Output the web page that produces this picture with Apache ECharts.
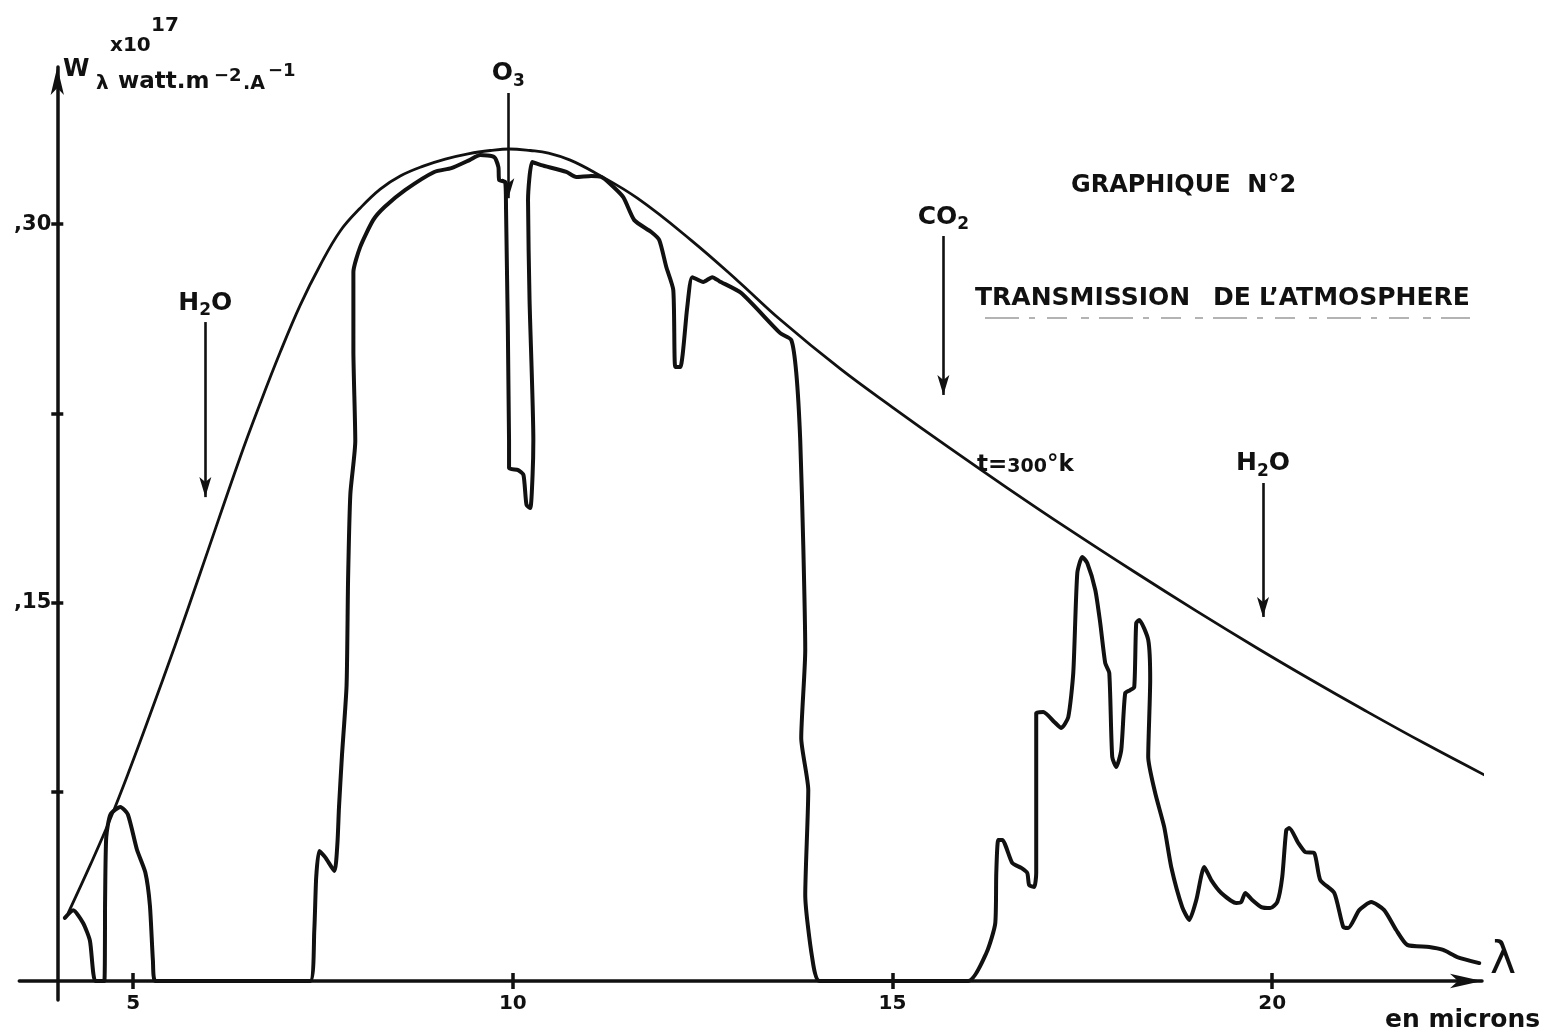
<!DOCTYPE html>
<html><head><meta charset="utf-8">
<script src="https://cdn.jsdelivr.net/npm/echarts@6/dist/echarts.min.js"></script>
<style>html,body{margin:0;padding:0;background:#fff}#chart{width:1548px;height:1036px}</style>
</head><body><div id="chart"></div>
<script>
// ---- data (wavelength in microns, W_lambda in 1e17 watt.m-2.A-1) ----
const planckX = [4.145,4.435,4.698,4.961,5.225,5.554,5.883,6.41,6.674,6.937,7.200,7.464,7.727,7.991,8.254,8.517,8.82,9.11,9.426,9.703,9.953,10.23,10.47,10.756,11.07,11.64,12.35,12.96,13.52,14.31,15.00,15.76,16.50,17.30,18.20,19.00,19.80,20.50,21.20,22.00,22.82];
const planckY = [0.027,0.046,0.0642,0.0844,0.1058,0.1332,0.1617,0.2077,0.2291,0.2493,0.2679,0.2838,0.2973,0.3064,0.3139,0.3191,0.3230,0.3258,0.3280,0.3292,0.3298,0.3292,0.3282,0.3254,0.3206,0.3103,0.2936,0.2776,0.2622,0.2427,0.2274,0.2111,0.1957,0.1795,0.1619,0.1467,0.1320,0.1196,0.1076,0.0943,0.0813];

const transX = [4.10,4.21,4.34,4.43,4.50,4.62,4.63,4.645,4.70,4.83,4.93,5.05,5.16,5.22,5.26,5.29,
  7.33,7.385,7.41,7.45,7.53,7.65,7.69,7.71,7.75,7.81,7.83,7.86,7.925,7.90,7.90,7.99,8.16,8.31,8.58,8.965,9.19,9.43,9.57,9.755,9.81,9.82,9.90,9.91,9.95,9.95,10.07,10.14,10.18,10.23,10.26,10.27,10.22,10.20,10.256,10.374,10.704,10.835,11.033,11.165,11.27,11.454,11.599,11.823,11.928,12.021,12.113,12.139,12.205,12.297,12.363,12.508,12.626,12.719,13.008,13.522,13.667,13.733,13.785,13.825,13.851,13.798,13.891,13.851,13.943,14.04,
  16.00,16.235,16.354,16.367,16.393,16.446,16.577,16.696,16.775,16.80,16.867,16.893,16.893,16.986,17.131,17.223,17.315,17.381,17.434,17.499,17.565,17.671,17.736,17.802,17.855,17.894,17.947,18.013,18.065,18.131,18.184,18.210,18.249,18.368,18.394,18.368,18.460,18.579,18.671,18.816,18.909,19.001,19.106,19.198,19.330,19.528,19.593,19.646,19.738,19.857,19.975,20.068,20.133,20.186,20.226,20.344,20.436,20.555,20.634,20.818,20.937,21.002,21.147,21.305,21.476,21.634,21.779,22.069,22.253,22.438,22.728];
const transY = [0.025,0.028,0.023,0.016,0,0,0.032,0.057,0.066,0.069,0.066,0.052,0.043,0.030,0.008,0,
  0,0.020,0.041,0.0515,0.049,0.0436,0.0547,0.0686,0.0896,0.117,0.159,0.193,0.214,0.250,0.281,0.291,0.3016,0.3068,0.3135,0.3207,0.3222,0.3254,0.3274,0.3266,0.3226,0.3175,0.3167,0.3068,0.2144,0.2033,0.2025,0.2006,0.1887,0.1875,0.2006,0.2144,0.270,0.3095,0.3246,0.3234,0.3207,0.3187,0.3191,0.3187,0.3163,0.3107,0.3016,0.2969,0.2937,0.2830,0.2739,0.2434,0.2434,0.2671,0.2790,0.2771,0.2790,0.2774,0.2727,0.2568,0.2541,0.2410,0.2144,0.1728,0.1312,0.0963,0.0757,0.0341,0.0091,0,
  0,0.011,0.023,0.0428,0.0559,0.0559,0.0468,0.0448,0.0428,0.038,0.0373,0.0428,0.1062,0.1066,0.1027,0.1003,0.1046,0.1221,0.1617,0.1681,0.1657,0.1550,0.1419,0.1260,0.1221,0.0888,0.0848,0.0916,0.1141,0.1153,0.1165,0.1419,0.1431,0.1352,0.1193,0.0888,0.0745,0.0610,0.0452,0.0293,0.0242,0.0321,0.0452,0.0400,0.0349,0.0309,0.0313,0.0349,0.0321,0.0293,0.0289,0.0313,0.0412,0.0598,0.0606,0.0547,0.0511,0.0507,0.0400,0.0349,0.0214,0.0210,0.0281,0.0313,0.0281,0.0202,0.0143,0.0135,0.0123,0.0095,0.0071];

const xTickValues = [5, 10, 15, 20];
const yTickValues = [0.075, 0.15, 0.225, 0.30];
const yLabelValues = [0.15, 0.30];

const arrowNames = ['H2O', 'O3', 'CO2', 'H2O'];
const arrowX     = [5.95, 9.94, 15.67, 19.88];
const arrowFrom  = [0.2612, 0.352, 0.2953, 0.1974];
const arrowTip   = [0.1918, 0.3103, 0.2323, 0.1443];

// ---- chart ----
const FONT = 'DejaVu Sans';
const INK = '#111';
const X_MIN = 3.5, X_MAX = 22.764, Y_MIN = -0.0075, Y_MAX = 0.3623;

function chem(name) {
  return name.split('').map(c => /\d/.test(c) ? '{s|' + c + '}' : '{m|' + c + '}').join('');
}

const chart = echarts.init(document.getElementById('chart'), null, {renderer: 'canvas'});
const axisLineStyle = {color: INK, width: 3.5};
const option = {
  backgroundColor: '#ffffff',
  animation: false,
  textStyle: {fontFamily: FONT, color: INK},
  grid: {left: 19.3, right: 66, top: 67, bottom: 36.1, containLabel: false, outerBoundsMode: 'none'},
  xAxis: [
    {
      type: 'value', position: 'bottom', min: X_MIN, max: X_MAX,
      axisLine: {show: true, onZero: true, symbol: ['none', 'arrow'], symbolSize: [11, 32], lineStyle: axisLineStyle},
      axisTick: {show: true, customValues: xTickValues, length: 8, lineStyle: {color: INK, width: 3.5}},
      axisLabel: {show: true, customValues: xTickValues, margin: -6, color: INK, fontFamily: FONT, fontWeight: 'bold', fontSize: 20},
      splitLine: {show: false}
    },
    {
      type: 'value', position: 'top', min: X_MIN, max: X_MAX,
      axisLine: {show: true, onZero: true, lineStyle: {color: INK, width: 0, opacity: 0}},
      axisTick: {show: true, customValues: xTickValues, length: 8, lineStyle: {color: INK, width: 3.5}},
      axisLabel: {show: false},
      splitLine: {show: false}
    }
  ],
  yAxis: [
    {
      type: 'value', position: 'left', offset: -38, min: Y_MIN, max: Y_MAX,
      axisLine: {show: true, onZero: false, symbol: ['none', 'arrow'], symbolSize: [10, 28], lineStyle: axisLineStyle},
      axisTick: {show: true, customValues: yTickValues, length: 6, lineStyle: {color: INK, width: 3.5}},
      axisLabel: {show: true, customValues: yLabelValues, formatter: v => ',' + Math.round(v * 100), margin: 6,
                  color: INK, fontFamily: FONT, fontWeight: 'bold', fontSize: 21},
      splitLine: {show: false}
    },
    {
      type: 'value', position: 'right', offset: -1424.7, min: Y_MIN, max: Y_MAX,
      axisLine: {show: true, onZero: false, lineStyle: {color: INK, width: 0, opacity: 0}},
      axisTick: {show: true, customValues: yTickValues, length: 6, lineStyle: {color: INK, width: 3.5}},
      axisLabel: {show: false},
      splitLine: {show: false}
    }
  ],
  series: [
    {
      name: 'Corps noir t=300°K', type: 'line', xAxisIndex: 0, yAxisIndex: 0,
      data: planckX.map((x, i) => [x, planckY[i]]),
      symbol: 'none', showSymbol: false, smooth: 0.4, clip: false, silent: true,
      lineStyle: {color: INK, width: 2.8, cap: 'round', join: 'round'},
      markLine: {
        silent: true, animation: false,
        symbol: ['none', 'arrow'], symbolSize: [9, 20],
        lineStyle: {color: INK, width: 2.6, type: 'solid'},
        label: {
          show: true, position: 'start', distance: 3, color: INK,
          rich: {
            m: {fontFamily: FONT, fontWeight: 'bold', fontSize: 25, lineHeight: 32, verticalAlign: 'middle', color: INK},
            s: {fontFamily: FONT, fontWeight: 'bold', fontSize: 17, lineHeight: 17, verticalAlign: 'bottom', color: INK}
          }
        },
        emphasis: {disabled: true},
        data: arrowNames.map((n, i) => [
          {coord: [arrowX[i], arrowFrom[i]], label: {formatter: chem(n)}},
          {coord: [arrowX[i], arrowTip[i]]}
        ])
      }
    },
    {
      name: 'Transmission', type: 'line', xAxisIndex: 0, yAxisIndex: 0,
      data: transX.map((x, i) => [x, transY[i]]),
      symbol: 'none', showSymbol: false, smooth: 0.2, clip: false, silent: true,
      lineStyle: {color: INK, width: 4, cap: 'round', join: 'round'}
    }
  ],
  graphic: [
    {type: 'text', x: 110, y: 46, style: {text: 'x10', fontFamily: FONT, fontWeight: 'bold', fontSize: 20, fill: INK, align: 'left', verticalAlign: 'middle'}},
    {type: 'text', x: 151, y: 26, style: {text: '17', fontFamily: FONT, fontWeight: 'bold', fontSize: 20, fill: INK, align: 'left', verticalAlign: 'middle'}},
    {type: 'text', x: 63, y: 70, style: {text: 'W', fontFamily: FONT, fontWeight: 'bold', fontSize: 24, fill: INK, align: 'left', verticalAlign: 'middle'}},
    {type: 'text', x: 96, y: 84, style: {text: 'λ', fontFamily: FONT, fontWeight: 'bold', fontSize: 20, fill: INK, align: 'left', verticalAlign: 'middle'}},
    {type: 'text', x: 118, y: 82, style: {text: 'watt.m', fontFamily: FONT, fontWeight: 'bold', fontSize: 23, fill: INK, align: 'left', verticalAlign: 'middle'}},
    {type: 'text', x: 214, y: 76, style: {text: '−2', fontFamily: FONT, fontWeight: 'bold', fontSize: 18, fill: INK, align: 'left', verticalAlign: 'middle'}},
    {type: 'text', x: 243, y: 84, style: {text: '.A', fontFamily: FONT, fontWeight: 'bold', fontSize: 19, fill: INK, align: 'left', verticalAlign: 'middle'}},
    {type: 'text', x: 268, y: 71, style: {text: '−1', fontFamily: FONT, fontWeight: 'bold', fontSize: 18, fill: INK, align: 'left', verticalAlign: 'middle'}},
    {type: 'text', x: 1071, y: 186, style: {text: 'GRAPHIQUE  N°2', fontFamily: FONT, fontWeight: 'bold', fontSize: 24, fill: INK, align: 'left', verticalAlign: 'middle'}},
    {type: 'text', x: 975, y: 298, style: {text: 'TRANSMISSION', fontFamily: FONT, fontWeight: 'bold', fontSize: 25, fill: INK, align: 'left', verticalAlign: 'middle'}},
    {type: 'text', x: 1213, y: 298, style: {text: 'DE', fontFamily: FONT, fontWeight: 'bold', fontSize: 25, fill: INK, align: 'left', verticalAlign: 'middle'}},
    {type: 'text', x: 1259, y: 298, style: {text: 'L\u2019ATMOSPHERE', fontFamily: FONT, fontWeight: 'bold', fontSize: 25, fill: INK, align: 'left', verticalAlign: 'middle'}},
    {type: 'line', shape: {x1: 985, y1: 318, x2: 1470, y2: 318}, style: {stroke: '#9a9a9a', lineWidth: 1.5, lineDash: [34, 10, 6, 12, 20, 14, 8, 10]}},
    {type: 'text', x: 977, y: 465, style: {text: '{a|t=}{b|300}{a|°k}', align: 'left', verticalAlign: 'middle',
      rich: {a: {fontFamily: FONT, fontWeight: 'bold', fontSize: 23, verticalAlign: 'bottom', fill: INK, color: INK},
             b: {fontFamily: FONT, fontWeight: 'bold', fontSize: 19, verticalAlign: 'bottom', fill: INK, color: INK}}}},
    {type: 'text', x: 1385, y: 1020, style: {text: 'en microns', fontFamily: FONT, fontWeight: 'bold', fontSize: 25, fill: INK, align: 'left', verticalAlign: 'middle'}},
    {type: 'text', x: 1503, y: 962, style: {text: 'λ', fontFamily: FONT, fontSize: 44, fill: INK, align: 'center', verticalAlign: 'middle'}}
  ]
};
chart.setOption(option);
</script>
</body></html>
